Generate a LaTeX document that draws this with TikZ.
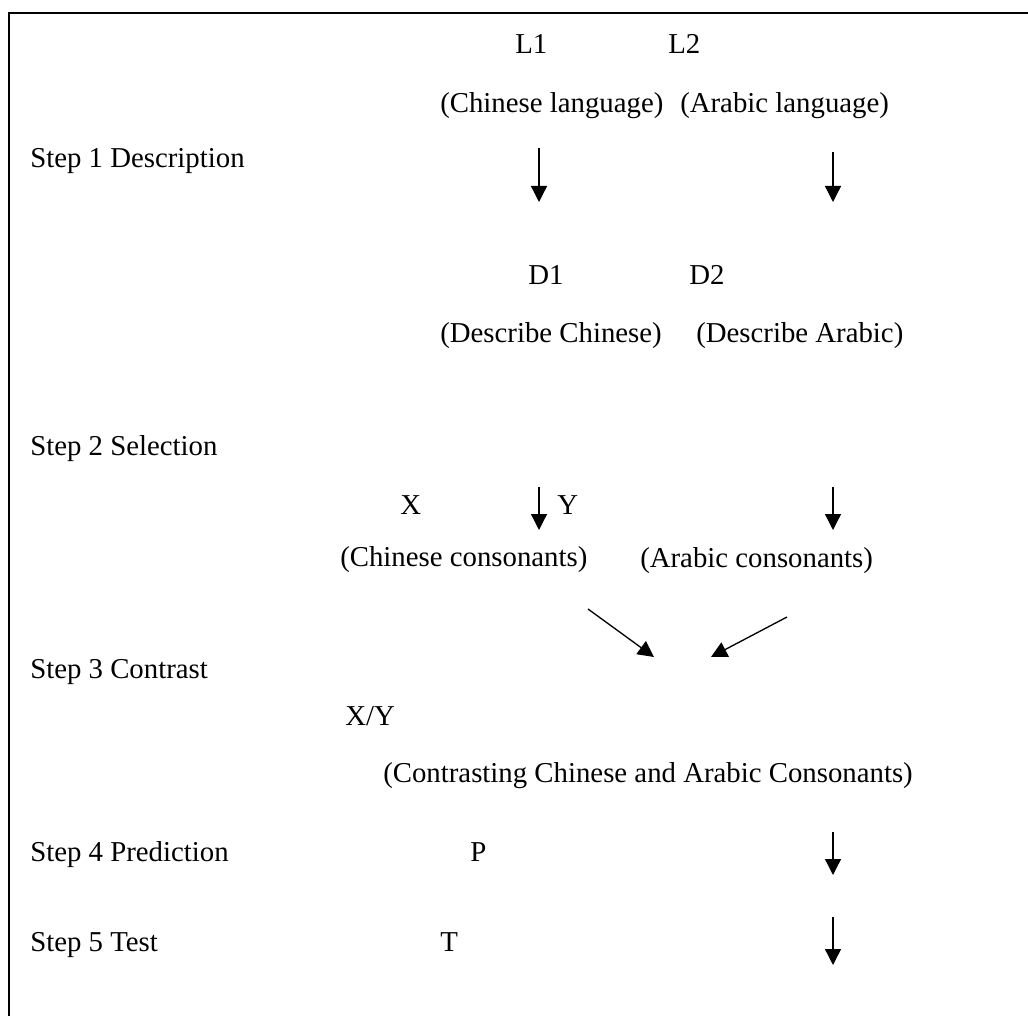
\documentclass[tikz,border=0pt]{standalone}
\usepackage{fontspec}
\setmainfont{Liberation Serif}
\usetikzlibrary{arrows.meta}
\begin{document}
\begin{tikzpicture}[x=0.75pt,y=-0.75pt,
  lbl/.style={anchor=base west,inner sep=0pt,font=\fontsize{21.6}{26}\selectfont},
  arr/.style={line width=1pt,-{Triangle[length=12pt,width=12pt]}},
  frame/.style={line width=1.5pt}]
\useasboundingbox (0,0) rectangle (1028,1016);
% frame (left and top edges only visible)
\coordinate (fTR) at (1028,13);
\coordinate (fTL) at (9,13);
\coordinate (fBL) at (9,1016);
\draw[frame] (fTR) -- (fTL) -- (fBL);
% step labels
\node[lbl] (s1) at (30,168) {Step 1 Description};
\node[lbl] (s2) at (30,455) {Step 2 Selection};
\node[lbl] (s3) at (30,678) {Step 3 Contrast};
\node[lbl] (s4) at (30,861) {Step 4 Prediction};
\node[lbl] (s5) at (30,951) {Step 5 Test};
% texts
\node[lbl] (L1) at (515,54) {L1};
\node[lbl] (L2) at (668,54) {L2};
\node[lbl] (cl) at (440,113) {(Chinese language)};
\node[lbl] (al) at (680,113) {(Arabic language)};
\node[lbl] (D1) at (528,285) {D1};
\node[lbl] (D2) at (689,285) {D2};
\node[lbl] (dc) at (440,343) {(Describe Chinese)};
\node[lbl] (da) at (696,343) {(Describe Arabic)};
\node[lbl] (X) at (400,514) {X};
\node[lbl] (Y) at (557,514) {Y};
\node[lbl] (cc) at (340,566) {(Chinese consonants)};
\node[lbl] (ac) at (640,567) {(Arabic consonants)};
\node[lbl] (XY) at (345,725) {X/Y};
\node[lbl] (cn) at (383,782) {(Contrasting Chinese and Arabic Consonants)};
\node[lbl] (P) at (470,861) {P};
\node[lbl] (T) at (440,951) {T};
% arrows
\coordinate (a1s) at (539,148); \coordinate (a1e) at (539,202);
\coordinate (a2s) at (833,152); \coordinate (a2e) at (833,202);
\coordinate (a3s) at (539,487); \coordinate (a3e) at (539,530);
\coordinate (a4s) at (833,487); \coordinate (a4e) at (833,530);
\coordinate (a5s) at (588,609); \coordinate (a5e) at (654,657);
\coordinate (a6s) at (787,617); \coordinate (a6e) at (711,657);
\coordinate (a7s) at (833,832); \coordinate (a7e) at (833,875);
\coordinate (a8s) at (833,917); \coordinate (a8e) at (833,965);
\draw[arr] (a1s) -- (a1e);
\draw[arr] (a2s) -- (a2e);
\draw[arr] (a3s) -- (a3e);
\draw[arr] (a4s) -- (a4e);
\draw[arr] (a5s) -- (a5e);
\draw[arr] (a6s) -- (a6e);
\draw[arr] (a7s) -- (a7e);
\draw[arr] (a8s) -- (a8e);
\end{tikzpicture}
\end{document}
